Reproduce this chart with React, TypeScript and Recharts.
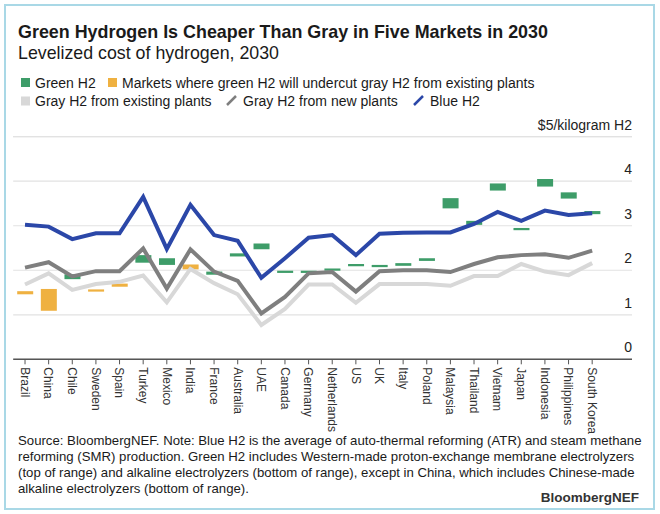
import { ComposedChart, Bar, Line, XAxis, YAxis, CartesianGrid, ReferenceLine, Cell } from 'recharts';

// ── Data ──────────────────────────────────────────────────────────────────

const COUNTRIES = [
  'Brazil', 'China', 'Chile', 'Sweden', 'Spain', 'Turkey', 'Mexico', 'India', 'France',
  'Australia', 'UAE', 'Canada', 'Germany', 'Netherlands', 'US', 'UK', 'Italy', 'Poland',
  'Malaysia', 'Thailand', 'Vietnam', 'Japan', 'Indonesia', 'Philippines', 'South Korea',
];

const BLUE_H2 = [
  3.02, 2.98, 2.70, 2.83, 2.83, 3.65, 2.48, 3.47, 2.79, 2.66, 1.83, 2.27, 2.73,
  2.79, 2.34, 2.82, 2.84, 2.85, 2.85, 3.04, 3.31, 3.11, 3.34, 3.24, 3.28,
];

const GRAY_NEW = [
  2.06, 2.18, 1.86, 1.98, 1.98, 2.49, 1.59, 2.47, 1.97, 1.76, 1.03, 1.40, 1.93,
  1.96, 1.52, 1.98, 2.00, 2.00, 1.96, 2.14, 2.29, 2.34, 2.36, 2.28, 2.44,
];

const GRAY_EXISTING = [
  1.68, 1.93, 1.56, 1.69, 1.74, 1.88, 1.28, 2.03, 1.71, 1.46, 0.77, 1.13, 1.68,
  1.68, 1.27, 1.69, 1.69, 1.69, 1.65, 1.87, 1.87, 2.14, 1.97, 1.89, 2.16,
];

// green H2 range: bottom (alkaline) and top (PEM)
const GREEN_LOW = [
  1.46, 1.09, 1.80, 1.52, 1.63, 2.17, 2.12, 2.02, 1.90, 2.31, 2.47, 1.94, 1.94,
  1.99, 2.09, 2.07, 2.10, 2.21, 3.39, 3.02, 3.79, 2.90, 3.88, 3.61, 3.26,
];
const GREEN_HIGH = [
  1.53, 1.58, 1.91, 1.57, 1.70, 2.34, 2.27, 2.13, 1.97, 2.38, 2.60, 1.99, 1.99,
  2.04, 2.14, 2.12, 2.16, 2.27, 3.62, 3.11, 3.95, 2.95, 4.05, 3.75, 3.33,
];

const UNDERCUT_MARKETS = ['Brazil', 'China', 'Sweden', 'Spain', 'India'];

const Y_TICKS = [0, 1, 2, 3, 4, 5];
const UNIT_LABEL = '$5/kilogram H2';

const chartData = COUNTRIES.map((country, i) => ({
  country,
  blue: BLUE_H2[i],
  grayNew: GRAY_NEW[i],
  grayExisting: GRAY_EXISTING[i],
  green: [GREEN_LOW[i], GREEN_HIGH[i]],
}));

// ── Styles ────────────────────────────────────────────────────────────────

const FONT = '"Liberation Sans", Arial, Helvetica, sans-serif';
const BLUE = '#2b47a8';
const DARK_GRAY = '#7f7f7f';
const LIGHT_GRAY = '#d8d8d8';
const GREEN = '#3e9d69';
const ORANGE = '#efb141';
const GRID = '#e2e2e2';
const AXIS = '#555';
const TEXT = '#1a1a1a';

function XTick({ x, y, payload }: { x?: number; y?: number; payload?: { value: string } }) {
  return (
    <text
      x={x}
      y={y}
      transform={`rotate(90 ${x} ${y})`}
      dy="0.35em"
      textAnchor="start"
      fill="#333"
      fontSize={12}
      fontFamily={FONT}
    >
      {payload?.value}
    </text>
  );
}

// value labels sit above each gridline, flush right
const gridLabel = (v: number) => (props: any) => {
  const vb = props.viewBox ?? {};
  return (
    <text x={vb.x + vb.width} y={vb.y - 7} textAnchor="end" fill="#222" fontSize={14} fontFamily={FONT}>
      {v === 5 ? UNIT_LABEL : String(v)}
    </text>
  );
};

// ── Header / footer ───────────────────────────────────────────────────────

const FOOTER_LINES = [
  'Source: BloombergNEF. Note: Blue H2 is the average of auto-thermal reforming (ATR) and steam methane',
  'reforming (SMR) production. Green H2 includes Western-made proton-exchange membrane electrolyzers',
  '(top of range) and alkaline electrolyzers (bottom of range), except in China, which includes Chinese-made',
  'alkaline electrolyzers (bottom of range).',
];

function Overlay() {
  return (
    <svg
      width={660}
      height={514}
      style={{ position: 'absolute', left: 0, top: 0, pointerEvents: 'none' }}
      fontFamily={FONT}
    >
      <rect x={5} y={5} width={649} height={504} fill="none" stroke="#a9d8e6" strokeWidth={2} />
      <text x={18} y={37.5} fontSize={17.9} fontWeight={700} fill={TEXT}>
        Green Hydrogen Is Cheaper Than Gray in Five Markets in 2030
      </text>
      <text x={18} y={58.5} fontSize={17.8} fill={TEXT}>
        Levelized cost of hydrogen, 2030
      </text>

      {/* legend row 1 */}
      <rect x={21} y={78} width={9} height={9} fill={GREEN} />
      <text x={35} y={87.5} fontSize={14} fill={TEXT}>Green H2</text>
      <rect x={108} y={78} width={9} height={9} fill={ORANGE} />
      <text x={122} y={87.5} fontSize={14} fill={TEXT}>
        Markets where green H2 will undercut gray H2 from existing plants
      </text>

      {/* legend row 2 */}
      <rect x={21} y={96.5} width={9} height={9} fill={LIGHT_GRAY} />
      <text x={35} y={106} fontSize={14} fill={TEXT}>Gray H2 from existing plants</text>
      <line x1={227} y1={105} x2={236} y2={96} stroke={DARK_GRAY} strokeWidth={2.5} />
      <text x={243} y={106} fontSize={14} fill={TEXT}>Gray H2 from new plants</text>
      <line x1={414} y1={105} x2={423} y2={96} stroke={BLUE} strokeWidth={2.5} />
      <text x={430} y={106} fontSize={14} fill={TEXT}>Blue H2</text>

      {FOOTER_LINES.map((line, i) => (
        <text key={i} x={18} y={445 + i * 16} fontSize={13.2} fill={TEXT}>
          {line}
        </text>
      ))}
      <text x={639} y={502} fontSize={13.5} fontWeight={700} fill="#333" textAnchor="end">
        BloombergNEF
      </text>
    </svg>
  );
}

// ── Chart ─────────────────────────────────────────────────────────────────

export default function App() {
  return (
    <div style={{ position: 'absolute', left: 0, top: 0, width: 660, height: 514, background: '#fff' }}>
      <ComposedChart
        width={660}
        height={514}
        data={chartData}
        margin={{ top: 136.7, right: 28, bottom: 94.7, left: 13.2 }}
      >
        <CartesianGrid vertical={false} stroke={GRID} strokeWidth={1.2} />
        <XAxis
          dataKey="country"
          interval={0}
          height={60}
          padding={{ left: 0, right: 28 }}
          tick={XTick as any}
          tickSize={5}
          tickMargin={3}
          tickLine={{ stroke: AXIS }}
          axisLine={{ stroke: AXIS, strokeWidth: 1.5 }}
        />
        <YAxis orientation="right" width={0} domain={[0, 5]} ticks={Y_TICKS} hide />
        {/* labels only; the top line (5) is also drawn here since the grid skips the edge */}
        {Y_TICKS.map((t) => (
          <ReferenceLine
            key={t}
            y={t}
            stroke={t === 5 ? GRID : 'none'}
            strokeWidth={1.2}
            label={gridLabel(t)}
          />
        ))}
        <Bar dataKey="green" barSize={16} isAnimationActive={false}>
          {chartData.map((d, i) => (
            <Cell key={i} fill={UNDERCUT_MARKETS.includes(d.country) ? ORANGE : GREEN} />
          ))}
        </Bar>
        <Line type="linear" dataKey="grayExisting" stroke={LIGHT_GRAY} strokeWidth={4} dot={false} isAnimationActive={false} />
        <Line type="linear" dataKey="grayNew" stroke={DARK_GRAY} strokeWidth={4} dot={false} isAnimationActive={false} />
        <Line type="linear" dataKey="blue" stroke={BLUE} strokeWidth={4} dot={false} isAnimationActive={false} />
      </ComposedChart>
      <Overlay />
    </div>
  );
}
